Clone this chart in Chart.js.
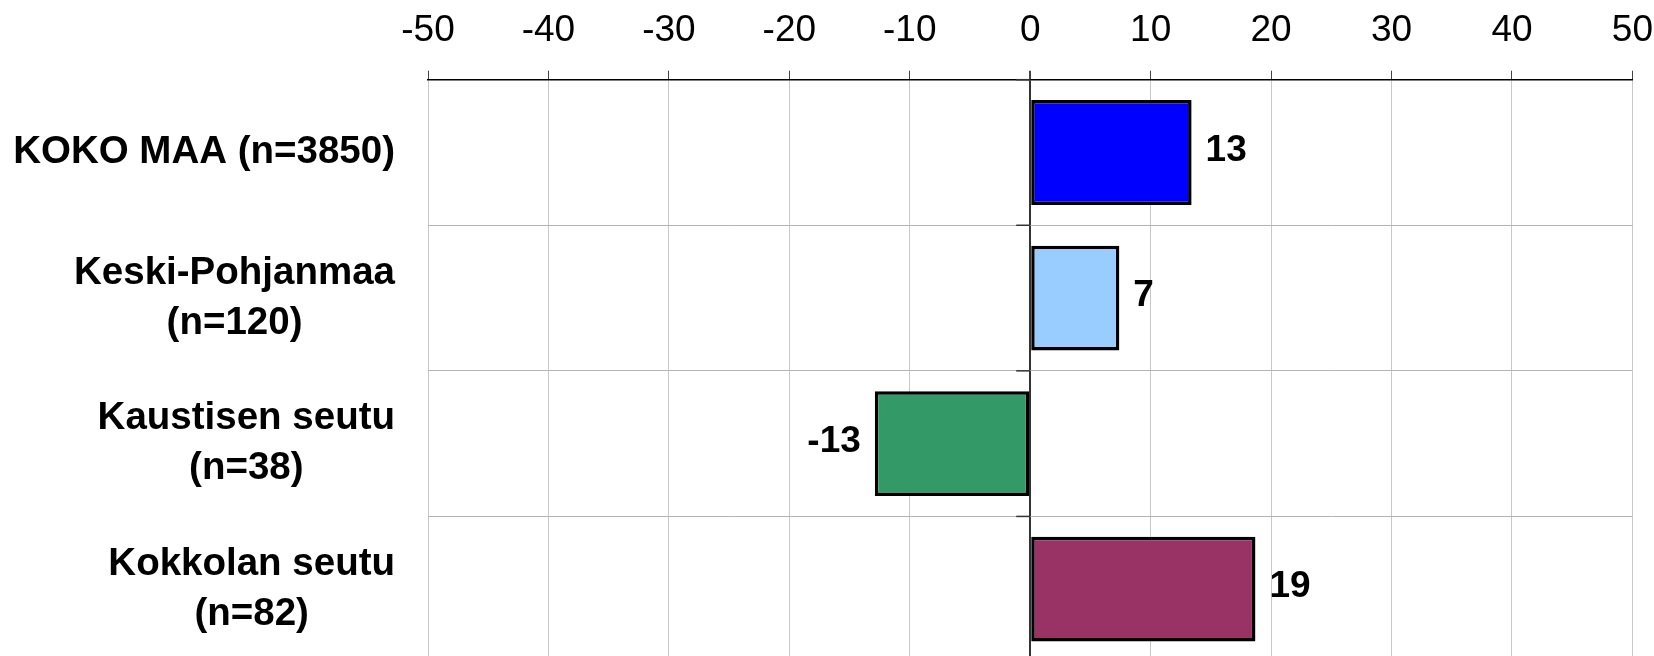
<!DOCTYPE html>
<html>
<head>
<meta charset="utf-8">
<script src="https://cdn.jsdelivr.net/npm/chart.js@4.4.1/dist/chart.umd.min.js"></script>
<style>
  html, body { margin: 0; padding: 0; background: #fff; overflow: hidden; }
  #wrap { width: 1654px; height: 656px; overflow: hidden; }
</style>
</head>
<body>
<div id="wrap"><canvas id="chart" width="1654" height="662"></canvas></div>
<script>
// chart data
const categories = [
    ['KOKO MAA (n=3850)'],
    ['Keski-Pohjanmaa', '(n=120)'],
    ['Kaustisen seutu', '(n=38)'],
    ['Kokkolan seutu', '(n=82)']
];
const values = [13.4, 7.4, -12.9, 18.7];
const tickValues = [-50, -40, -30, -20, -10, 0, 10, 20, 30, 40, 50];

const barColors = ['#0000ff', '#99ccff', '#339966', '#993366'];
const FONT = '"Liberation Sans", Arial, sans-serif';

// category labels on the left: block right aligned, lines centred inside it
const categoryLabels = {
    id: 'categoryLabels',
    afterDraw(chart) {
        const ctx = chart.ctx;
        const yScale = chart.scales.y;
        const rightEdge = chart.chartArea.left - 33;
        const lineH = 50;
        ctx.save();
        ctx.font = 'bold 38.5px ' + FONT;
        ctx.fillStyle = '#000';
        ctx.textAlign = 'center';
        ctx.textBaseline = 'middle';
        categories.forEach((lines, i) => {
            const y = yScale.getPixelForValue(i);
            const w = Math.max(...lines.map(l => ctx.measureText(l).width));
            const cx = rightEdge - w / 2;
            const top = y - (lines.length - 1) * lineH / 2;
            lines.forEach((l, j) => ctx.fillText(l, cx, top + j * lineH));
        });
        ctx.restore();
    }
};

// value labels next to the bar ends + small ticks on the zero line
const valueLabels = {
    id: 'valueLabels',
    afterDatasetsDraw(chart) {
        const ctx = chart.ctx;
        const xScale = chart.scales.x;
        const yScale = chart.scales.y;
        const zero = xScale.getPixelForValue(0);
        ctx.save();
        ctx.strokeStyle = '#333';
        ctx.lineWidth = 1.5;
        for (let i = 0; i <= categories.length; i++) {
            const y = yScale.getPixelForValue(i - 0.5);
            ctx.beginPath();
            ctx.moveTo(zero - 14, y);
            ctx.lineTo(zero, y);
            ctx.stroke();
        }
        ctx.font = 'bold 37px ' + FONT;
        ctx.fillStyle = '#000';
        ctx.textBaseline = 'middle';
        chart.getDatasetMeta(0).data.forEach((bar, i) => {
            const v = values[i];
            const txt = String(Math.round(v));
            if (v >= 0) {
                ctx.textAlign = 'left';
                ctx.fillText(txt, bar.x + 14, bar.y - 2);
            } else {
                ctx.textAlign = 'right';
                ctx.fillText(txt, bar.x - 14, bar.y - 2);
            }
        });
        ctx.restore();
    }
};

new Chart(document.getElementById('chart'), {
    type: 'bar',
    data: {
        labels: categories.map(c => c.join(' ')),
        datasets: [{
            data: values,
            backgroundColor: barColors,
            borderColor: '#000',
            borderWidth: 3.5,
            borderSkipped: false
        }]
    },
    options: {
        indexAxis: 'y',
        responsive: false,
        animation: false,
        devicePixelRatio: 1,
        layout: { padding: { left: 428, right: 0, top: -9, bottom: 0 } },
        plugins: {
            legend: { display: false },
            tooltip: { enabled: false }
        },
        scales: {
            x: {
                position: 'top',
                min: -50,
                max: 50,
                afterBuildTicks: scale => {
                    scale.ticks = tickValues.map(v => ({ value: v }));
                },
                ticks: {
                    // tall line box keeps the labels clear of the axis
                    font: { family: FONT, size: 37, lineHeight: 2.1 },
                    color: '#000',
                    padding: 1,
                    maxRotation: 0
                },
                grid: {
                    color: c => (c.tick && c.tick.value === 0) ? '#333' : '#c8c8c8',
                    lineWidth: c => (c.tick && c.tick.value === 0) ? 2 : 1,
                    tickLength: 9,
                    tickColor: '#444'
                },
                border: { display: true, color: '#000', width: 1.5 }
            },
            y: {
                offset: true,
                ticks: { display: false },
                grid: {
                    offset: true,
                    color: '#b4b4b4',
                    lineWidth: 1,
                    drawTicks: false
                },
                border: { display: false }
            }
        }
    },
    plugins: [categoryLabels, valueLabels]
});
</script>
</body>
</html>
